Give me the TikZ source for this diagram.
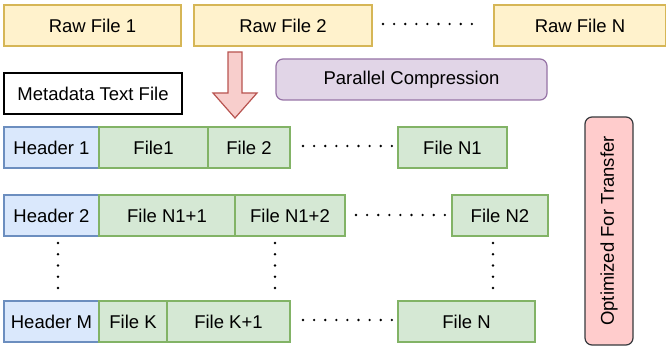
\documentclass[tikz,border=0pt]{standalone}
\usepackage{fontspec}
\setmainfont{Liberation Sans}
\begin{document}
\begin{tikzpicture}[x=1pt,y=-1pt,
  box/.style={draw, line width=1.2pt, minimum height=41pt, inner sep=0pt, font=\fontsize{18.5}{22}\selectfont},
  raw/.style={box, fill=rawfill, draw=rawline},
  hdr/.style={box, fill=hdrfill, draw=hdrline, minimum width=95pt},
  fil/.style={box, fill=filfill, draw=filline},
  dotc/.style={fill=black}]
\definecolor{rawfill}{HTML}{FFF2CC}\definecolor{rawline}{HTML}{D6B656}
\definecolor{hdrfill}{HTML}{DAE8FC}\definecolor{hdrline}{HTML}{6C8EBF}
\definecolor{filfill}{HTML}{D5E8D4}\definecolor{filline}{HTML}{82B366}
\definecolor{parfill}{HTML}{E1D5E7}\definecolor{parline}{HTML}{9673A6}
\definecolor{arrfill}{HTML}{F8CECC}\definecolor{arrline}{HTML}{B85450}
\definecolor{optfill}{HTML}{FFCCCC}\definecolor{optline}{HTML}{36393D}
\useasboundingbox (0,0) rectangle (666,347);
% top row
\node[raw, minimum width=177pt] (raw1) at (92.5,25.5) {Raw File 1};
\node[raw, minimum width=178pt] (raw2) at (283,25.5) {Raw File 2};
\node[raw, minimum width=172pt] (rawN) at (580,25.5) {Raw File N};
\node[box, minimum width=178pt] (meta) at (93,93.5) {Metadata Text File};
\node[box, fill=parfill, draw=parline, rounded corners=7pt, minimum width=271pt] (par) at (411.5,79.5) {Parallel Compression};
% block arrow
\draw[line width=1.2pt, draw=arrline, fill=arrfill] (228,52) -- (242,52) -- (242,93) -- (257,93) -- (235,118) -- (213,93) -- (228,93) -- cycle;
% row 1
\node[hdr] (h1) at (51.5,147.5) {Header 1};
\node[fil, minimum width=109pt] (f1) at (153.5,147.5) {File1};
\node[fil, minimum width=82pt] (f2) at (249,147.5) {File 2};
\node[fil, minimum width=109pt] (fN1) at (452.5,147.5) {File N1};
% row 2
\node[hdr] (h2) at (51.5,215.5) {Header 2};
\node[fil, minimum width=136pt] (n11) at (167,215.5) {File N1+1};
\node[fil, minimum width=110pt] (n12) at (290,215.5) {File N1+2};
\node[fil, minimum width=96pt] (fN2) at (500,215.5) {File N2};
% row 3
\node[hdr] (hM) at (51.5,321.5) {Header M};
\node[fil, minimum width=68pt] (fK) at (133,321.5) {File K};
\node[fil, minimum width=123pt] (fK1) at (228.5,321.5) {File K+1};
\node[fil, minimum width=137pt] (fN) at (466.5,321.5) {File N};
% optimized
\node[box, fill=optfill, draw=optline, rounded corners=7pt, minimum width=228pt, minimum height=48pt, rotate=90] (opt) at (609,231) {Optimized For Transfer};
% horizontal dots
\foreach \sx/\sy in {383/24, 303/146, 356/215, 303/320}{
  \foreach \i in {0,...,8}{
    \fill ({\sx+\i*11.1},\sy) circle (1.3pt);
  }
}
% vertical dots
\foreach \sx in {58, 275, 493}{
  \foreach \i in {0,...,4}{
    \fill (\sx,{243+\i*11.25}) circle (1.3pt);
  }
}
\end{tikzpicture}
\end{document}
